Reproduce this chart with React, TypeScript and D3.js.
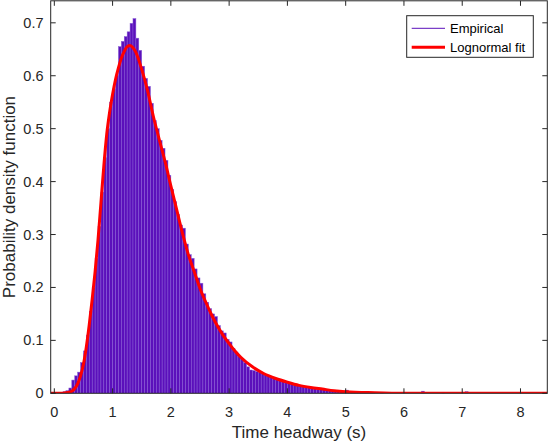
import React from "react";
import * as d3 from "d3";

const binWidth = 0.05;
const histStart = 0.0;
// Empirical histogram densities, bins of 0.05 s starting at 0
const histValues = [
  0.000, 0.000, 0.002, 0.003, 0.005, 0.010, 0.025, 0.033, 0.040, 0.058,
  0.080, 0.110, 0.155, 0.200, 0.255, 0.315, 0.380, 0.445, 0.500, 0.550,
  0.575, 0.600, 0.655, 0.665, 0.674, 0.683, 0.699, 0.708, 0.671, 0.648,
  0.618, 0.595, 0.580, 0.548, 0.515, 0.500, 0.478, 0.463, 0.440, 0.412,
  0.385, 0.362, 0.338, 0.318, 0.312, 0.282, 0.262, 0.255, 0.235, 0.218,
  0.208, 0.188, 0.172, 0.160, 0.150, 0.145, 0.128, 0.118, 0.114, 0.102,
  0.097, 0.085, 0.078, 0.070, 0.066, 0.058, 0.050, 0.044, 0.043, 0.041,
  0.040, 0.038, 0.036, 0.034, 0.030, 0.028, 0.026, 0.024, 0.022, 0.021,
  0.019, 0.018, 0.016, 0.015, 0.014, 0.013, 0.012, 0.011, 0.010, 0.009,
  0.008, 0.008, 0.007, 0.006, 0.006, 0.005, 0.005, 0.004, 0.004, 0.003,
  0.006, 0.003, 0.002, 0.002, 0.002, 0.001, 0.001, 0.001, 0.001, 0.001,
];
// sparse outlier bins far in the tail
const tailX = [5.6, 6.3, 6.65, 7.05];
const tailY = [0.002, 0.004, 0.002, 0.003];

// Lognormal fit curve
const fitX = [
  -0.06, 0.1, 0.2, 0.25, 0.3, 0.35, 0.4, 0.45, 0.5, 0.55, 0.6, 0.65, 0.7, 0.75,
  0.8, 0.85, 0.9, 0.95, 1.0, 1.05, 1.1, 1.15, 1.2, 1.25, 1.3, 1.35, 1.4, 1.5,
  1.6, 1.7, 1.8, 1.9, 2.0, 2.1, 2.2, 2.3, 2.4, 2.5, 2.6, 2.7, 2.8, 2.9, 3.0,
  3.1, 3.2, 3.4, 3.6, 3.8, 4.0, 4.2, 4.4, 4.6, 4.8, 5.0, 5.5, 6.0, 7.0, 8.46,
];
const fitY = [
  0, 0, 0.001, 0.002, 0.004, 0.009, 0.018, 0.033, 0.055, 0.088, 0.13, 0.178,
  0.23, 0.29, 0.36, 0.43, 0.49, 0.532, 0.565, 0.593, 0.615, 0.633, 0.646,
  0.655, 0.657, 0.653, 0.644, 0.612, 0.572, 0.523, 0.48, 0.438, 0.392, 0.347,
  0.302, 0.262, 0.23, 0.198, 0.172, 0.148, 0.127, 0.109, 0.094, 0.08, 0.068,
  0.05, 0.037, 0.028, 0.021, 0.015, 0.011, 0.008, 0.005, 0.003, 0.001, 0, 0, 0,
];

const xTicks = [0, 1, 2, 3, 4, 5, 6, 7, 8];
const yTicks = [0, 0.1, 0.2, 0.3, 0.4, 0.5, 0.6, 0.7];
const legendLabels = ["Empirical", "Lognormal fit"];
const xLabel = "Time headway (s)";
const yLabel = "Probability density function";

const W = 548;
const H = 444;
const L = 50.7;
const R = 547.3;
const T = 0.8;
const B = 393.3;

const barFill = "#5b10bb";
const barEdge = "#8a5fd6";
const fitColor = "#ff0000";
const axisColor = "#262626";
const font = "'Liberation Sans', Arial, Helvetica, sans-serif";

export default function App() {
  const x = d3.scaleLinear().domain([-0.062, 8.46]).range([L, R]);
  const y = d3.scaleLinear().domain([0, 0.7416]).range([B, T]);

  const bars = histValues.map((v, i) => ({ x0: histStart + i * binWidth, v }));
  tailX.forEach((tx, i) => bars.push({ x0: tx, v: tailY[i] }));

  const line = d3
    .line<number>()
    .x((_, i) => x(fitX[i]))
    .y((d) => y(d))
    .curve(d3.curveMonotoneX);

  const tick = 5;

  return (
    <svg
      width={W}
      height={H}
      style={{ position: "absolute", left: 0, top: 0, background: "#fff" }}
      fontFamily={font}
    >
      <rect x={0} y={0} width={W} height={H} fill="#fff" />
      <defs>
        <clipPath id="plotclip">
          <rect x={L} y={T} width={R - L} height={B - T} />
        </clipPath>
      </defs>
      <g clipPath="url(#plotclip)">
        {bars
          .filter((b) => b.v > 0)
          .map((b, i) => (
            <rect
              key={i}
              x={x(b.x0)}
              y={y(b.v)}
              width={x(b.x0 + binWidth) - x(b.x0)}
              height={y(0) - y(b.v)}
              fill={barFill}
              stroke={barEdge}
              strokeWidth={0.5}
            />
          ))}
        <path
          d={line(fitY) || ""}
          fill="none"
          stroke={fitColor}
          strokeWidth={3}
          strokeLinejoin="round"
        />
      </g>

      {/* axes box */}
      <rect
        x={L}
        y={T}
        width={R - L}
        height={B - T}
        fill="none"
        stroke={axisColor}
        strokeWidth={1}
      />
      {xTicks.map((t) => (
        <g key={"x" + t}>
          <line x1={x(t)} x2={x(t)} y1={B} y2={B - tick} stroke={axisColor} />
          <line x1={x(t)} x2={x(t)} y1={T} y2={T + tick} stroke={axisColor} />
          <text
            x={x(t)}
            y={417}
            textAnchor="middle"
            fontSize={14.5}
            fill={axisColor}
          >
            {t}
          </text>
        </g>
      ))}
      {yTicks.map((t) => (
        <g key={"y" + t}>
          <line x1={L} x2={L + tick} y1={y(t)} y2={y(t)} stroke={axisColor} />
          <line x1={R} x2={R - tick} y1={y(t)} y2={y(t)} stroke={axisColor} />
          <text
            x={43.5}
            y={y(t) + 5}
            textAnchor="end"
            fontSize={14.5}
            fill={axisColor}
          >
            {String(t)}
          </text>
        </g>
      ))}

      <text
        x={(L + R) / 2}
        y={438}
        textAnchor="middle"
        fontSize={17}
        fill={axisColor}
      >
        {xLabel}
      </text>
      <text
        transform={`translate(14.5, ${(T + B) / 2}) rotate(-90)`}
        textAnchor="middle"
        fontSize={17}
        fill={axisColor}
      >
        {yLabel}
      </text>

      {/* legend */}
      <rect
        x={406.7}
        y={15.7}
        width={126.6}
        height={41.6}
        fill="#fff"
        stroke={axisColor}
        strokeWidth={1}
      />
      <line x1={411.7} x2={445} y1={28.3} y2={28.3} stroke="#5b10bb" strokeWidth={1} />
      <text x={450} y={33} fontSize={13} fill="#000">
        {legendLabels[0]}
      </text>
      <line x1={411.7} x2={445} y1={47.3} y2={47.3} stroke={fitColor} strokeWidth={3} />
      <text x={450} y={52} fontSize={13} fill="#000">
        {legendLabels[1]}
      </text>
    </svg>
  );
}
